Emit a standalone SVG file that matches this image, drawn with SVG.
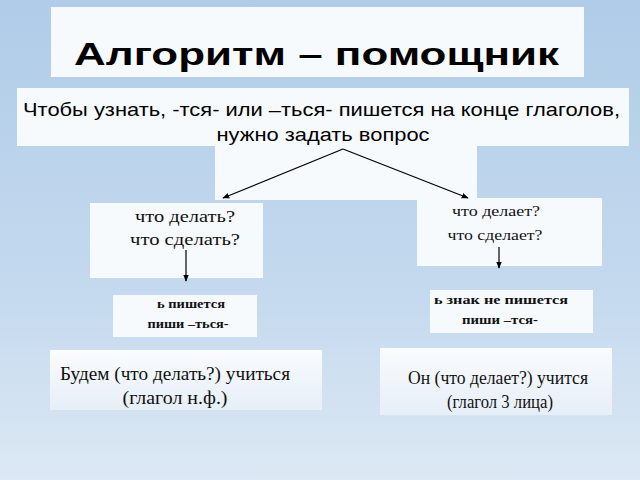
<svg xmlns="http://www.w3.org/2000/svg" width="640" height="480" viewBox="0 0 640 480">
<defs>
<linearGradient id="bg" x1="0" y1="0" x2="0" y2="1">
<stop offset="0" stop-color="#b0cce8"/>
<stop offset="0.6" stop-color="#c4d9ee"/>
<stop offset="1" stop-color="#dce8f4"/>
</linearGradient>
<linearGradient id="bx" x1="0" y1="0" x2="0" y2="1">
<stop offset="0" stop-color="#fafcfe"/>
<stop offset="1" stop-color="#e6eef7"/>
</linearGradient>
<marker id="ah" viewBox="0 0 10 10" refX="9" refY="5" markerWidth="7" markerHeight="7" orient="auto" markerUnits="userSpaceOnUse">
<path d="M0,1 L10,5 L0,9 z" fill="#000"/>
</marker>
</defs>
<style>
.box{fill:#f7fafd}
.gbox{fill:url(#bx)}
.sans{font-family:"Liberation Sans",Arial,sans-serif;fill:#000}
.serif{font-family:"Liberation Serif","Times New Roman",serif;fill:#111}
.c{text-anchor:middle}
.ln{stroke:#000;stroke-width:1.2;fill:none;marker-end:url(#ah)}
</style>
<rect width="640" height="480" fill="url(#bg)"/>
<g id="title">
<rect class="box" x="51" y="7" width="533" height="70" fill="#ffffff"/>
<text class="sans c" x="316.5" y="65" font-size="31" font-weight="bold" textLength="485" lengthAdjust="spacingAndGlyphs">Алгоритм – помощник</text>
</g>
<g id="question">
<rect class="box" x="17" y="88" width="612" height="58"/>
<rect class="box" x="215" y="145" width="262" height="55"/>
<text class="sans c" x="321.5" y="116" font-size="19" textLength="597" lengthAdjust="spacingAndGlyphs">Чтобы узнать, -тся- или –ться- пишется  на конце глаголов,</text>
<text class="sans c" x="323" y="141" font-size="19" textLength="213" lengthAdjust="spacingAndGlyphs">нужно задать вопрос</text>
</g>
<g id="q-left">
<rect class="box" x="90" y="203" width="173" height="75"/>
<text class="serif c" x="185" y="222" font-size="17" textLength="100" lengthAdjust="spacingAndGlyphs">что делать?</text>
<text class="serif c" x="185" y="245" font-size="17" textLength="110" lengthAdjust="spacingAndGlyphs">что сделать?</text>
</g>
<g id="q-right">
<rect class="box" x="417" y="198" width="185" height="68"/>
<text class="serif c" x="496" y="216" font-size="15" textLength="88" lengthAdjust="spacingAndGlyphs">что делает?</text>
<text class="serif c" x="495" y="240" font-size="15" textLength="95" lengthAdjust="spacingAndGlyphs">что сделает?</text>
</g>
<g id="rule-left">
<rect class="box" x="113" y="295" width="144" height="42"/>
<text class="serif c" x="191" y="308" font-size="12" font-weight="bold" textLength="68" lengthAdjust="spacingAndGlyphs">ь пишется</text>
<text class="serif c" x="188" y="328" font-size="12" font-weight="bold" textLength="81" lengthAdjust="spacingAndGlyphs">пиши  –ться-</text>
</g>
<g id="rule-right">
<rect class="box" x="430" y="290" width="163" height="43"/>
<text class="serif c" x="501" y="304" font-size="12" font-weight="bold" textLength="134" lengthAdjust="spacingAndGlyphs">ь  знак не пишется</text>
<text class="serif c" x="500" y="324" font-size="12" font-weight="bold" textLength="76" lengthAdjust="spacingAndGlyphs">пиши  –тся-</text>
</g>
<g id="example-left">
<rect class="gbox" x="50" y="350" width="272" height="60"/>
<text class="serif c" x="175" y="380" font-size="18" textLength="230" lengthAdjust="spacingAndGlyphs">Будем (что делать?) учиться</text>
<text class="serif c" x="175" y="404" font-size="18" textLength="105" lengthAdjust="spacingAndGlyphs">(глагол н.ф.)</text>
</g>
<g id="example-right">
<rect class="gbox" x="380" y="348" width="232" height="67"/>
<text class="serif c" x="498" y="384" font-size="18" textLength="180" lengthAdjust="spacingAndGlyphs">Он (что делает?)  учится</text>
<text class="serif c" x="500" y="408" font-size="18" textLength="106" lengthAdjust="spacingAndGlyphs">(глагол 3 лица)</text>
</g>
<g id="connectors">
<line class="ln" x1="343" y1="149" x2="223" y2="198"/>
<line class="ln" x1="343" y1="149" x2="468" y2="198"/>
<line class="ln" x1="186" y1="250" x2="186" y2="281"/>
<line class="ln" x1="499" y1="247" x2="499" y2="268"/>
</g>
</svg>
